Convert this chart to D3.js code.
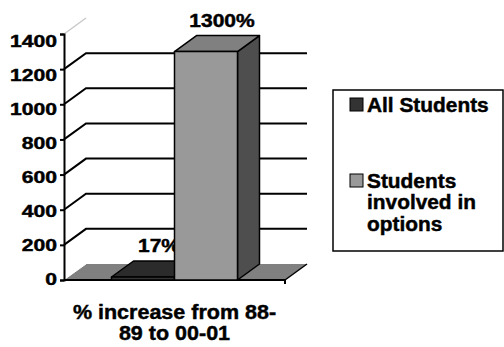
<!DOCTYPE html>
<html>
<head>
<meta charset="utf-8">
<script src="https://cdn.jsdelivr.net/npm/d3@7"></script>
<style>
  body { margin: 0; background: #fff; }
  text { font-family: "Liberation Sans", Arial, sans-serif; font-weight: bold; fill: #000;
         stroke: #000; stroke-width: 0.45px; }
</style>
</head>
<body>
<svg id="chart" width="504" height="347"></svg>
<script>
// data
const categories = ["% increase from 88-89 to 00-01"];
const categoryLines = ["% increase from 88-", "89 to 00-01"];
const seriesNames = ["All Students", "Students involved in options"];
const legendLines = [["All Students"], ["Students", "involved in", "options"]];
const seriesValues = [17, 1300];
const valueLabels = ["17%", "1300%"];
const seriesColors = ["#333333", "#999999"];
const yTicks = [0, 200, 400, 600, 800, 1000, 1200, 1400];

const svg = d3.select("#chart");
const plot = {left: 64, right: 285, top: 34, bottom: 280};
const depth = {dx: 22, dy: -16};

const y = d3.scaleLinear().domain([0, 1400]).range([plot.bottom, plot.top]);
// tick labels sit a little off the ticks in the original
const yLabel = d3.scaleLinear().domain([0, 1400]).range([278.5, 40.5]);
const x0 = d3.scaleBand().domain(categories).range([plot.left, plot.right]);
const x1 = d3.scaleBand().domain(seriesNames)
    .range([0, x0.bandwidth()])
    .paddingInner(0)
    .paddingOuter(0.754);

// draws text stretched sideways like the original picture
function wideText(g, str, x, yy, size, sx, anchor) {
    return g.append("text")
        .attr("transform", "translate(" + x + "," + yy + ") scale(" + sx + ",1)")
        .attr("font-size", size)
        .attr("text-anchor", anchor || "start")
        .text(str);
}

const poly = pts => "M" + pts.map(p => p.join(",")).join("L") + "Z";

// floor
const y0 = y(0);
svg.append("path")
    .attr("d", poly([[plot.left, y0], [plot.right, y0],
        [plot.right + depth.dx, y0 + depth.dy], [plot.left + depth.dx, y0 + depth.dy]]))
    .attr("fill", "#808080");
svg.append("line")
    .attr("x1", plot.right).attr("y1", y0)
    .attr("x2", plot.right + depth.dx).attr("y2", y0 + depth.dy)
    .attr("stroke", "#000").attr("stroke-width", 1.5);
svg.append("line")
    .attr("x1", plot.left + 1).attr("y1", y0 - 1)
    .attr("x2", plot.left + depth.dx).attr("y2", y0 + depth.dy)
    .attr("stroke", "#fff").attr("stroke-width", 1);

// grid lines on the back wall + diagonals on the side wall
const inner = yTicks.filter(v => v > 0 && v < 1400);
svg.selectAll(".grid")
    .data(inner)
    .enter()
    .append("path")
        .attr("class", "grid")
        .attr("fill", "none")
        .attr("stroke", "#000")
        .attr("stroke-width", 2)
        .attr("d", v => "M" + plot.left + "," + y(v) +
            "L" + (plot.left + depth.dx) + "," + (y(v) + depth.dy) +
            "H" + (plot.right + depth.dx));
svg.append("line")
    .attr("x1", plot.left).attr("y1", y(1400))
    .attr("x2", plot.left + depth.dx).attr("y2", y(1400) + depth.dy)
    .attr("stroke", "#c8c8c8").attr("stroke-width", 1.5);

// y axis
const yAxis = svg.append("g")
    .attr("transform", "translate(" + plot.left + ",0)")
    .call(d3.axisLeft(y).tickValues(yTicks).tickSize(4).tickFormat(d3.format("d")));
yAxis.select(".domain").attr("stroke-width", 2);
yAxis.selectAll(".tick line").attr("stroke-width", 2);
yAxis.selectAll(".tick text").remove();
const yLab = svg.append("g");
yTicks.forEach(v => {
    wideText(yLab, d3.format("d")(v), 57, yLabel(v) + 6, 16.5, 1.28, "end");
});

// x axis line
svg.append("path")
    .attr("d", "M" + plot.left + "," + y0 + "H" + plot.right + "V" + (y0 + 4))
    .attr("fill", "none")
    .attr("stroke", "#000")
    .attr("stroke-width", 2);

// bars (drawn left to right so the tall bar covers the small label)
const bars = svg.append("g");
seriesNames.forEach((s, i) => {
    const v = seriesValues[i];
    const xl = x0(categories[0]) + x1(s);
    const w = x1.bandwidth();
    const yt = y(v), yb = y(0);
    const c = d3.color(seriesColors[i]);
    const g = bars.append("g").attr("stroke", "#000").attr("stroke-width", 1.5)
        .attr("stroke-linejoin", "round");
    g.append("path")
        .attr("fill", c.darker(1.9))
        .attr("d", poly([[xl + w, yt], [xl + w + depth.dx, yt + depth.dy],
            [xl + w + depth.dx, yb + depth.dy], [xl + w, yb]]));
    g.append("path")
        .attr("fill", c.darker(0.5))
        .attr("d", poly([[xl, yt], [xl + w, yt],
            [xl + w + depth.dx, yt + depth.dy], [xl + depth.dx, yt + depth.dy]]));
    g.append("rect")
        .attr("x", xl).attr("y", yt)
        .attr("width", w).attr("height", yb - yt)
        .attr("fill", c);
    wideText(bars, valueLabels[i], xl + w / 2 + 16, yt + depth.dy - 9, 17.5, 1.2, "middle");
});

// category label
categoryLines.forEach((t, i) => {
    wideText(svg, t, x0(categories[0]) + x0.bandwidth() / 2, 319 + i * 21, 20.5, 1.05, "middle");
});

// legend
const legend = svg.append("g");
legend.append("rect")
    .attr("x", 333).attr("y", 90)
    .attr("width", 170).attr("height", 161)
    .attr("fill", "#fff")
    .attr("stroke", "#000")
    .attr("stroke-width", 1.5);
const legendTop = [98, 174];
seriesNames.forEach((s, i) => {
    legend.append("rect")
        .attr("x", 350).attr("y", legendTop[i])
        .attr("width", 13).attr("height", 13)
        .attr("fill", seriesColors[i])
        .attr("stroke", "#000")
        .attr("stroke-width", 1);
    legendLines[i].forEach((t, j) => {
        wideText(legend, t, 367, legendTop[i] + 13.5 + j * 21.5, 19.5, 1.07);
    });
});
</script>
</body>
</html>
